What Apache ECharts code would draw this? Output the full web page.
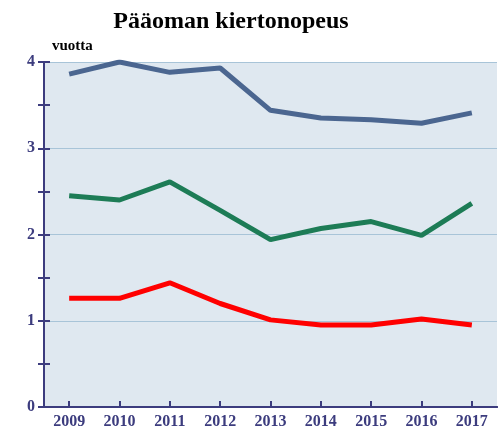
<!DOCTYPE html>
<html>
<head>
<meta charset="utf-8">
<script src="https://cdn.jsdelivr.net/npm/echarts@6/dist/echarts.min.js"></script>
<style>
  html, body { margin: 0; padding: 0; background: #fff; }
  #chart { width: 499px; height: 430px; }
</style>
</head>
<body>
<div id="chart"></div>
<script>
/* data */
var years = ['2009', '2010', '2011', '2012', '2013', '2014', '2015', '2016', '2017'];
var blueValues = [3.86, 4.0, 3.88, 3.93, 3.44, 3.35, 3.33, 3.29, 3.41];
var greenValues = [2.45, 2.40, 2.61, 2.28, 1.94, 2.07, 2.15, 1.99, 2.36];
var redValues = [1.26, 1.26, 1.44, 1.20, 1.01, 0.95, 0.95, 1.02, 0.95];

var axisColor = '#3c3c7e';
var serif = '"Liberation Serif", "DejaVu Serif", serif';

var chart = echarts.init(document.getElementById('chart'));
var option = {
    animation: false,
    title: {
        text: 'Pääoman kiertonopeus',
        left: 226,
        textAlign: 'center',
        top: 5,
        textStyle: {
            fontFamily: serif,
            fontWeight: 'bold',
            fontSize: 24,
            color: '#000'
        }
    },
    grid: {
        left: 44,
        right: 2,
        top: 62,
        bottom: 22,
        show: true,
        backgroundColor: '#dfe8f0',
        borderWidth: 0
    },
    xAxis: [{
        type: 'category',
        data: years,
        boundaryGap: true,
        axisLine: { lineStyle: { color: axisColor, width: 2 } },
        axisTick: { alignWithLabel: true, length: 6, lineStyle: { color: axisColor, width: 2 } },
        axisLabel: {
            margin: 7,
            fontFamily: serif,
            fontWeight: 'bold',
            fontSize: 16,
            color: axisColor
        }
    }, {
        // second axis only for the inner half of the crossing ticks
        type: 'category',
        data: years,
        position: 'bottom',
        boundaryGap: true,
        axisLine: { show: true, lineStyle: { color: axisColor, width: 2 } },
        axisTick: { show: true, alignWithLabel: true, inside: true, length: 6, lineStyle: { color: axisColor, width: 2 } },
        axisLabel: { show: false }
    }],
    yAxis: [{
        type: 'value',
        min: 0,
        max: 4,
        interval: 1,
        name: 'vuotta',
        nameLocation: 'end',
        nameGap: 8,
        nameTextStyle: {
            align: 'left',
            padding: [0, 0, 0, 8],
            fontFamily: serif,
            fontWeight: 'bold',
            fontSize: 15,
            color: '#000'
        },
        axisLine: { show: true, lineStyle: { color: axisColor, width: 2 } },
        axisTick: { show: true, length: 6, lineStyle: { color: axisColor, width: 2 } },
        minorTick: { show: true, splitNumber: 2, length: 6, lineStyle: { color: axisColor, width: 2 } },
        splitLine: { show: true, lineStyle: { color: '#a8c4d8', width: 1 } },
        axisLabel: {
            margin: 9,
            fontFamily: serif,
            fontWeight: 'bold',
            fontSize: 16,
            color: axisColor
        }
    }, {
        type: 'value',
        min: 0,
        max: 4,
        interval: 1,
        position: 'left',
        axisLine: { show: true, lineStyle: { color: axisColor, width: 2 } },
        axisTick: { show: true, inside: true, length: 6, lineStyle: { color: axisColor, width: 2 } },
        minorTick: { show: true, splitNumber: 2, length: 6, lineStyle: { color: axisColor, width: 2 } },
        splitLine: { show: false },
        axisLabel: { show: false }
    }],
    series: [{
        name: 'blue',
        type: 'line',
        data: blueValues,
        symbol: 'none',
        lineStyle: { color: '#4b6690', width: 5 }
    }, {
        name: 'green',
        type: 'line',
        data: greenValues,
        symbol: 'none',
        lineStyle: { color: '#1d7c56', width: 5 }
    }, {
        name: 'red',
        type: 'line',
        xAxisIndex: 1,
        yAxisIndex: 1,
        data: redValues,
        symbol: 'none',
        lineStyle: { color: '#ff0000', width: 5 }
    }]
};
chart.setOption(option);
</script>
</body>
</html>
